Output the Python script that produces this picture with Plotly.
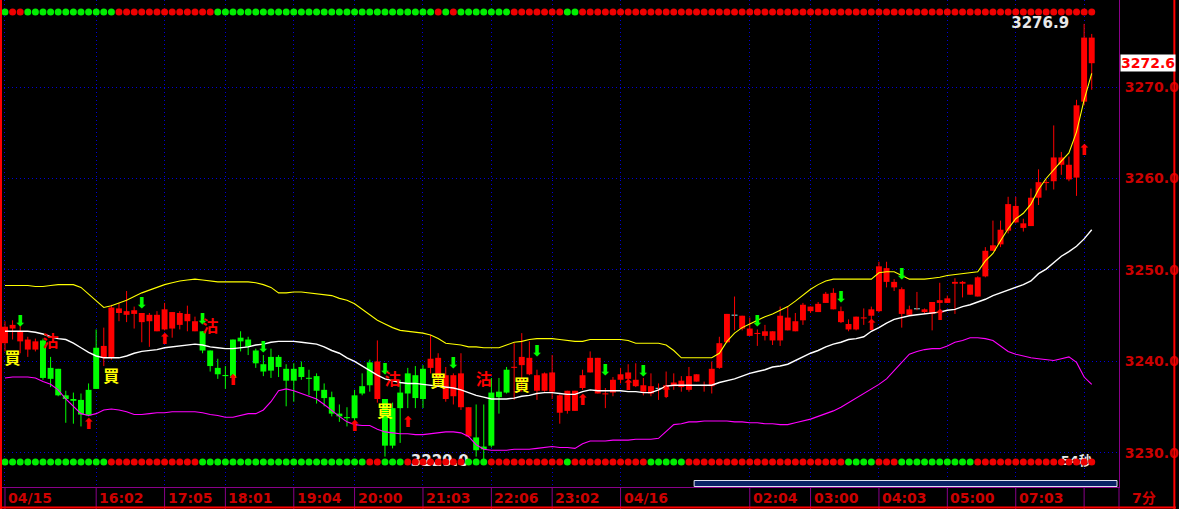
import plotly.graph_objects as go

# ---------------- data ----------------
time_labels = ["04/15", "16:02", "17:05", "18:01", "19:04", "20:00", "21:03", "22:06",
               "23:02", "04/16", "02:04", "03:00", "04:03", "05:00", "07:03", ""]
label_bars = [0, 12, 21, 29, 38, 46, 55, 64, 72, 81, 98, 106, 115, 124, 133, 142]
price_ticks = [3230, 3240, 3250, 3260, 3270]
period_label = "7分"

open_ = [3242.0, 3243.6, 3242.2, 3241.3, 3241.3, 3242.3, 3239.3, 3239.2, 3236.3, 3235.9,
         3235.8, 3236.9, 3241.5, 3240.4, 3240.4, 3245.3, 3245.1, 3245.2, 3244.3, 3244.4,
         3243.3, 3243.5, 3243.6, 3244.0, 3244.4, 3243.3, 3243.3, 3241.2, 3239.3, 3238.5,
         3242.4, 3242.6, 3242.4, 3241.2, 3239.7, 3240.5, 3240.5, 3239.2, 3239.2, 3239.4,
         3238.2, 3238.4, 3236.9, 3236.1, 3234.3, 3233.9, 3236.3, 3237.3, 3239.9, 3235.9,
         3235.9, 3234.9, 3236.6, 3238.7, 3238.5, 3239.2, 3239.3, 3238.4, 3235.9, 3236.2,
         3235.0, 3231.8, 3231.7, 3230.7, 3236.6, 3236.7, 3239.1, 3239.3, 3239.6, 3238.6,
         3236.8, 3236.8, 3236.7, 3234.4, 3234.6, 3234.6, 3237.1, 3238.8, 3236.5, 3236.4,
         3236.6, 3238.0, 3238.1, 3237.3, 3236.7, 3236.5, 3237.0, 3237.1, 3237.3, 3237.2,
         3236.9, 3237.8, 3237.3, 3237.3, 3239.3, 3242.1, 3245.0, 3243.6, 3242.8, 3243.0,
         3242.8, 3242.3, 3242.3, 3243.4, 3243.3, 3244.5, 3245.5, 3245.4, 3246.4, 3245.7,
         3244.3, 3243.5, 3243.5, 3244.7, 3245.0, 3245.5, 3248.7, 3248.1, 3245.2, 3245.1,
         3245.7, 3245.4, 3245.2, 3246.4, 3246.4, 3248.5, 3248.5, 3247.3, 3247.1, 3249.3,
         3252.1, 3252.8, 3254.3, 3255.2, 3254.6, 3254.8, 3257.9, 3259.5, 3259.7, 3261.5,
         3259.9, 3260.1, 3268.4, 3275.4]
close = [3243.8, 3244.0, 3243.3, 3242.4, 3242.2, 3238.2, 3238.1, 3236.3, 3235.9, 3235.7,
         3234.2, 3234.1, 3237.0, 3241.7, 3245.9, 3245.8, 3245.5, 3245.6, 3245.3, 3245.1,
         3245.1, 3245.7, 3245.4, 3245.3, 3245.2, 3244.4, 3241.2, 3239.5, 3238.6, 3238.4,
         3238.2, 3242.2, 3241.6, 3239.8, 3238.9, 3239.0, 3239.4, 3237.9, 3237.9, 3238.3,
         3238.1, 3236.8, 3236.0, 3234.3, 3234.0, 3233.8, 3233.8, 3236.5, 3237.4, 3240.0,
         3230.8, 3230.8, 3234.9, 3236.5, 3236.0, 3235.9, 3240.3, 3240.4, 3238.5, 3238.5,
         3238.7, 3235.0, 3230.3, 3230.4, 3230.8, 3236.1, 3236.6, 3239.4, 3240.5, 3240.4,
         3238.5, 3238.7, 3238.8, 3236.3, 3236.8, 3236.8, 3238.5, 3240.4, 3240.4, 3236.5,
         3238.0, 3238.6, 3238.8, 3238.0, 3237.4, 3237.3, 3237.1, 3237.4, 3237.7, 3237.9,
         3238.4, 3238.6, 3237.4, 3239.2, 3242.0, 3245.2, 3245.0, 3245.0, 3243.6, 3243.1,
         3243.3, 3243.3, 3245.0, 3244.8, 3244.4, 3246.2, 3246.0, 3246.3, 3247.4, 3247.5,
         3245.5, 3244.1, 3244.9, 3244.8, 3245.7, 3250.4, 3250.2, 3248.7, 3247.9, 3245.7,
         3245.7, 3245.7, 3246.5, 3246.7, 3246.9, 3248.7, 3248.7, 3248.4, 3249.2, 3252.1,
         3252.7, 3254.4, 3257.2, 3257.0, 3255.1, 3257.9, 3259.6, 3259.6, 3262.3, 3262.3,
         3261.5, 3268.0, 3275.4, 3272.6]
high = [3244.4, 3244.5, 3244.4, 3242.7, 3242.5, 3242.5, 3240.5, 3239.2, 3236.8, 3236.6,
        3236.5, 3237.6, 3243.5, 3243.7, 3246.2, 3246.4, 3247.7, 3246.0, 3245.3, 3245.3,
        3245.5, 3246.4, 3245.4, 3245.5, 3246.1, 3244.9, 3243.3, 3241.2, 3240.3, 3239.5,
        3242.4, 3243.3, 3242.7, 3241.4, 3240.7, 3241.4, 3240.7, 3239.7, 3239.8, 3240.0,
        3239.1, 3238.7, 3237.6, 3236.7, 3235.3, 3235.0, 3236.9, 3238.7, 3240.2, 3242.3,
        3235.9, 3235.5, 3238.0, 3239.3, 3239.5, 3239.6, 3242.9, 3240.9, 3239.4, 3238.7,
        3240.9, 3235.0, 3235.3, 3235.3, 3238.2, 3238.2, 3239.4, 3242.0, 3243.1, 3242.2,
        3239.1, 3238.8, 3240.7, 3236.4, 3236.8, 3236.8, 3239.1, 3241.1, 3240.4, 3237.1,
        3238.3, 3239.3, 3239.7, 3239.8, 3238.2, 3238.7, 3237.6, 3238.9, 3238.7, 3238.4,
        3239.4, 3238.6, 3237.8, 3240.0, 3242.7, 3245.2, 3247.1, 3245.0, 3244.8, 3243.5,
        3244.0, 3243.3, 3246.0, 3246.0, 3245.3, 3246.4, 3246.0, 3246.5, 3247.6, 3248.0,
        3246.0, 3244.6, 3244.9, 3245.8, 3246.0, 3250.9, 3250.9, 3249.0, 3248.1, 3246.1,
        3247.6, 3245.8, 3246.5, 3248.6, 3247.2, 3249.1, 3248.8, 3248.4, 3249.3, 3252.5,
        3255.4, 3255.4, 3258.0, 3258.0, 3255.6, 3258.9, 3261.0, 3259.9, 3265.8, 3262.9,
        3262.4, 3268.6, 3276.9, 3275.8]
low = [3241.1, 3242.4, 3240.9, 3240.5, 3241.1, 3238.0, 3237.2, 3236.2, 3233.3, 3233.2,
       3232.9, 3234.0, 3237.0, 3239.5, 3240.2, 3244.4, 3244.3, 3243.6, 3242.1, 3241.6,
       3243.3, 3243.4, 3242.6, 3243.5, 3243.3, 3243.3, 3240.9, 3238.9, 3238.1, 3237.0,
       3238.2, 3241.1, 3240.7, 3239.3, 3238.4, 3238.2, 3238.3, 3235.1, 3235.6, 3238.0,
       3236.3, 3235.4, 3235.1, 3234.0, 3233.4, 3232.9, 3233.6, 3236.3, 3236.7, 3235.5,
       3229.6, 3230.5, 3231.1, 3234.9, 3234.9, 3234.9, 3238.7, 3237.3, 3235.6, 3235.3,
       3234.7, 3231.7, 3229.6, 3229.0, 3230.6, 3234.3, 3236.5, 3235.8, 3236.7, 3238.5,
       3235.8, 3236.7, 3235.9, 3233.2, 3234.3, 3234.6, 3236.9, 3238.8, 3236.5, 3234.9,
       3236.2, 3237.6, 3237.1, 3237.2, 3236.3, 3236.2, 3235.8, 3236.0, 3236.9, 3236.7,
       3236.7, 3237.8, 3236.7, 3236.5, 3239.2, 3242.0, 3243.4, 3243.4, 3242.8, 3241.7,
       3242.3, 3241.8, 3241.7, 3243.4, 3243.3, 3244.0, 3245.3, 3245.4, 3246.4, 3245.7,
       3244.2, 3243.3, 3243.4, 3244.0, 3244.2, 3245.4, 3248.1, 3247.7, 3243.7, 3245.0,
       3245.6, 3245.2, 3243.4, 3245.2, 3246.4, 3245.2, 3247.0, 3247.3, 3247.1, 3249.2,
       3252.1, 3252.5, 3254.0, 3255.1, 3254.2, 3254.8, 3257.1, 3258.7, 3258.8, 3260.4,
       3259.7, 3258.1, 3268.0, 3269.7]
# candle colour runs: r = red, g = green, c = cyan (flat)
candle_color_runs = [("r", 5), ("g", 8), ("r", 13), ("g", 23), ("r", 1), ("g", 6), ("r", 6),
                     ("g", 5), ("r", 19), ("c", 1), ("r", 9), ("c", 1), ("r", 23), ("c", 1),
                     ("r", 23)]

upper_band = [3248.3, 3248.3, 3248.3, 3248.3, 3248.2, 3248.2, 3248.3, 3248.4, 3248.4, 3248.4,
              3248.1, 3247.4, 3246.6, 3245.9, 3246.1, 3246.4, 3246.7, 3247.1, 3247.5, 3247.8,
              3248.1, 3248.4, 3248.6, 3248.8, 3248.9, 3249.0, 3248.9, 3248.8, 3248.7, 3248.7,
              3248.7, 3248.7, 3248.7, 3248.6, 3248.4, 3248.1, 3247.5, 3247.5, 3247.6, 3247.6,
              3247.5, 3247.4, 3247.3, 3247.2, 3246.9, 3246.7, 3246.3, 3245.7, 3245.1, 3244.5,
              3244.1, 3243.7, 3243.4, 3243.3, 3243.2, 3243.1, 3242.9, 3242.5, 3242.0, 3241.9,
              3241.8, 3241.6, 3241.6, 3241.5, 3241.5, 3241.5, 3241.8, 3242.1, 3242.2, 3242.4,
              3242.5, 3242.5, 3242.5, 3242.4, 3242.3, 3242.2, 3242.2, 3242.4, 3242.4, 3242.4,
              3242.4, 3242.4, 3242.3, 3242.0, 3242.0, 3242.0, 3242.0, 3241.8, 3241.2, 3240.4,
              3240.4, 3240.4, 3240.4, 3240.4, 3240.9, 3242.2, 3243.1, 3243.7, 3244.1, 3244.5,
              3244.9, 3245.2, 3245.6, 3246.0, 3246.6, 3247.3, 3247.9, 3248.4, 3248.8, 3249.0,
              3249.0, 3249.0, 3249.0, 3249.0, 3249.0, 3249.7, 3249.8, 3249.8, 3249.4, 3249.0,
              3249.0, 3249.0, 3249.1, 3249.2, 3249.4, 3249.5, 3249.6, 3249.7, 3249.8, 3251.0,
              3251.8, 3253.2, 3254.5, 3255.6, 3256.2, 3257.2, 3258.8, 3260.0, 3261.0, 3261.9,
              3262.8, 3265.1, 3268.6, 3271.5]
mid_band = [3243.3, 3243.3, 3243.3, 3243.3, 3243.2, 3243.0, 3242.7, 3242.5, 3242.4, 3242.0,
            3241.5, 3241.0, 3240.6, 3240.4, 3240.4, 3240.4, 3240.6, 3240.9, 3241.1, 3241.2,
            3241.3, 3241.5, 3241.6, 3241.7, 3241.8, 3241.9, 3241.8, 3241.6, 3241.5, 3241.4,
            3241.4, 3241.5, 3241.6, 3241.8, 3241.9, 3242.1, 3242.2, 3242.2, 3242.2, 3242.1,
            3242.0, 3241.9, 3241.6, 3241.2, 3240.9, 3240.4, 3240.0, 3239.5, 3239.0, 3238.5,
            3238.1, 3237.9, 3237.7, 3237.6, 3237.6, 3237.5, 3237.4, 3237.3, 3237.2, 3237.1,
            3236.9, 3236.6, 3236.3, 3236.1, 3235.9, 3235.9, 3235.9, 3236.0, 3236.2, 3236.3,
            3236.5, 3236.6, 3236.6, 3236.5, 3236.4, 3236.4, 3236.7, 3236.9, 3236.8, 3236.8,
            3236.8, 3236.8, 3236.7, 3236.7, 3236.6, 3236.6, 3236.9, 3237.3, 3237.4, 3237.4,
            3237.4, 3237.4, 3237.4, 3237.4, 3237.7, 3237.9, 3238.1, 3238.4, 3238.7, 3238.9,
            3239.1, 3239.4, 3239.5, 3239.7, 3240.1, 3240.5, 3240.9, 3241.2, 3241.6, 3241.9,
            3242.1, 3242.4, 3242.5, 3242.7, 3243.3, 3243.7, 3244.2, 3244.6, 3244.8, 3245.0,
            3245.1, 3245.2, 3245.3, 3245.4, 3245.6, 3245.7, 3246.0, 3246.2, 3246.5, 3246.8,
            3247.2, 3247.5, 3247.8, 3248.1, 3248.4, 3248.8, 3249.6, 3250.1, 3250.8, 3251.5,
            3252.0, 3252.6, 3253.4, 3254.4]
lower_band = [3238.2, 3238.3, 3238.3, 3238.3, 3238.2, 3237.8, 3237.5, 3236.9, 3235.9, 3235.1,
              3234.3, 3234.1, 3234.3, 3234.7, 3234.8, 3234.7, 3234.5, 3234.2, 3234.2, 3234.3,
              3234.4, 3234.4, 3234.5, 3234.5, 3234.5, 3234.5, 3234.4, 3234.2, 3234.1, 3233.9,
              3233.9, 3234.1, 3234.3, 3234.3, 3234.7, 3235.6, 3236.8, 3237.0, 3236.8, 3236.5,
              3236.2, 3235.9, 3235.3, 3234.6, 3234.0, 3233.4, 3233.1, 3233.0, 3233.0, 3232.6,
              3232.3, 3232.2, 3232.1, 3232.1, 3232.0, 3232.0, 3232.1, 3232.2, 3232.3, 3232.3,
              3232.2, 3231.8, 3230.9, 3230.4, 3230.3, 3230.3, 3230.3, 3230.4, 3230.4, 3230.4,
              3230.5, 3230.6, 3230.7, 3230.6, 3230.6, 3230.5, 3231.0, 3231.3, 3231.3, 3231.3,
              3231.4, 3231.4, 3231.4, 3231.5, 3231.5, 3231.5, 3231.6, 3232.3, 3233.1, 3233.2,
              3233.4, 3233.4, 3233.5, 3233.5, 3233.5, 3233.5, 3233.4, 3233.4, 3233.3, 3233.3,
              3233.2, 3233.2, 3233.1, 3233.1, 3233.3, 3233.5, 3233.7, 3234.0, 3234.3, 3234.6,
              3235.0, 3235.5, 3236.0, 3236.5, 3237.0, 3237.5, 3238.1, 3239.0, 3240.0, 3240.8,
              3241.1, 3241.3, 3241.4, 3241.4, 3241.7, 3242.1, 3242.3, 3242.6, 3242.6, 3242.5,
              3242.3, 3241.7, 3241.1, 3240.8, 3240.6, 3240.4, 3240.3, 3240.2, 3240.1, 3240.3,
              3240.5, 3239.9, 3238.3, 3237.5]

# indicator dot rows (G = green, R = red) as run lengths
top_dot_runs = [("G", 1), ("R", 2), ("G", 12), ("R", 13), ("G", 29), ("R", 1), ("G", 1),
                ("R", 1), ("G", 7), ("R", 7), ("G", 2), ("R", 68)]
bottom_dot_runs = [("G", 14), ("R", 12), ("G", 22), ("R", 2), ("G", 3), ("R", 8), ("G", 3),
                   ("R", 10), ("G", 1), ("R", 10), ("G", 5), ("R", 21), ("G", 4), ("R", 3),
                   ("G", 10), ("R", 16)]
top_dot_level = 3278.2
bottom_dot_level = 3229.0

# signals
down_arrow_idx = [2, 18, 26, 34, 50, 59, 70, 79, 84, 99, 110, 118]
down_arrow_price = [3244.3, 3246.3, 3244.5, 3241.4, 3239.0, 3239.7, 3241.0, 3238.9, 3238.8,
                    3244.3, 3246.9, 3249.4]
up_arrow_idx = [11, 21, 30, 46, 53, 76, 82, 87, 114, 123, 142]
up_arrow_price = [3233.0, 3242.3, 3237.8, 3232.8, 3233.3, 3235.7, 3237.3, 3236.5, 3243.9,
                  3244.9, 3263.0]
buy_idx = [1, 14, 50, 57, 68]
buy_price = [3240.2, 3238.2, 3234.4, 3237.7, 3237.2]
sell_idx = [6, 27, 51, 63]
sell_price = [3242.0, 3243.7, 3237.9, 3237.9]
countdown_text = "54秒"

# ---------------- helpers ----------------
def expand(runs):
    out = []
    for c, n in runs:
        out += [c] * n
    return out

n = len(close)
xs = list(range(n))
ccol = expand(candle_color_runs)
top_cols = expand(top_dot_runs)
bot_cols = expand(bottom_dot_runs)

RED = "#ff0000"
GREEN = "#00ff00"
CYAN = "#80d8d8"
body_color = {"r": RED, "g": GREEN, "c": CYAN}
dot_color = {"G": "#00ee00", "R": "#ee0000"}

fig = go.Figure()

# wicks (cyan flat candles use red wicks)
for key, col in (("r", RED), ("g", GREEN)):
    wx, wy = [], []
    for i in xs:
        k = "r" if ccol[i] == "c" else ccol[i]
        if k == key:
            wx += [i, i, None]
            wy += [low[i], high[i], None]
    fig.add_trace(go.Scatter(x=wx, y=wy, mode="lines", line=dict(color=col, width=1),
                             hoverinfo="skip"))

# bodies
base = [min(o, c) for o, c in zip(open_, close)]
height = [max(abs(c - o), 0.12) for o, c in zip(open_, close)]
fig.add_trace(go.Bar(x=xs, y=height, base=base, width=0.78,
                     marker=dict(color=[body_color[c] for c in ccol], line=dict(width=0)),
                     hoverinfo="skip"))

# bands
fig.add_trace(go.Scatter(x=xs, y=upper_band, mode="lines", line=dict(color="#ffff00", width=1.1)))
fig.add_trace(go.Scatter(x=xs, y=mid_band, mode="lines", line=dict(color="#ffffff", width=1.4)))
fig.add_trace(go.Scatter(x=xs, y=lower_band, mode="lines", line=dict(color="#ff00ff", width=1.1)))

# high / low / countdown text (under the dot rows)
hi_i = max(xs, key=lambda i: high[i])
lo_i = min(xs, key=lambda i: low[i])
fig.add_trace(go.Scatter(x=[hi_i], y=[high[hi_i]], mode="text",
                         text=[f"{high[hi_i]:.1f}\u2002\u2002"], textposition="middle left",
                         textfont=dict(family="DejaVu Sans", size=15, color="#e8e8e8", weight="bold")))
fig.add_trace(go.Scatter(x=[lo_i], y=[low[lo_i]], mode="text",
                         text=[f"{low[lo_i]:.1f}\u2002\u2002"], textposition="middle left",
                         textfont=dict(family="DejaVu Sans", size=15, color="#e8e8e8", weight="bold")))
fig.add_trace(go.Scatter(x=[xs[-1]], y=[bottom_dot_level], mode="text",
                         text=[countdown_text], textposition="middle left",
                         textfont=dict(family="DejaVu Sans, Noto Sans CJK TC", size=13,
                                       color="#e8e8e8", weight="bold")))

# dot rows
fig.add_trace(go.Scatter(x=xs, y=[top_dot_level] * n, mode="markers",
                         marker=dict(size=7, color=[dot_color[c] for c in top_cols], line=dict(width=0))))
fig.add_trace(go.Scatter(x=xs, y=[bottom_dot_level] * n, mode="markers",
                         marker=dict(size=7, color=[dot_color[c] for c in bot_cols], line=dict(width=0))))

# arrows
fig.add_trace(go.Scatter(x=down_arrow_idx, y=down_arrow_price, mode="text",
                         text=["⬇"] * len(down_arrow_idx),
                         textfont=dict(family="DejaVu Sans", size=15, color=GREEN)))
fig.add_trace(go.Scatter(x=up_arrow_idx, y=up_arrow_price, mode="text",
                         text=["⬆"] * len(up_arrow_idx),
                         textfont=dict(family="DejaVu Sans", size=15, color=RED)))

# buy / sell marks
fig.add_trace(go.Scatter(x=buy_idx, y=buy_price, mode="text", text=["買"] * len(buy_idx),
                         textfont=dict(family="Noto Sans CJK TC", size=16, color="#ffff00",
                                       weight="bold")))
fig.add_trace(go.Scatter(x=sell_idx, y=sell_price, mode="text", text=["沽"] * len(sell_idx),
                         textfont=dict(family="Noto Sans CJK TC", size=16, color=RED,
                                       weight="bold")))

# ---------------- layout ----------------
W, H = 1179, 509
ML, MR, MT, MB = 0, 57, 0, 22
PW, PH = W - ML - MR, H - MT - MB
PX = 7.62  # pixels per bar
x0 = -5 / PX
x_range = [x0, x0 + PW / PX]
y_range = [3226.28, 3279.51]

GRID = "#0000d8"
PURPLE = "#8a008a"
AXRED = "#cc0000"

fig.update_layout(width=W, height=H, margin=dict(l=ML, r=MR, t=MT, b=MB, pad=0),
                  paper_bgcolor="#000000", plot_bgcolor="#000000", showlegend=False,
                  hovermode=False, barmode="overlay")
fig.update_xaxes(range=x_range, tickvals=label_bars, showticklabels=False, ticks="",
                 showgrid=True, gridcolor=GRID, gridwidth=1, griddash="1px,3px",
                 zeroline=False, showline=True, linecolor=PURPLE, linewidth=1, fixedrange=True)
fig.update_yaxes(range=y_range, side="right", tickvals=price_ticks,
                 ticktext=[f"{v:.1f}" for v in price_ticks], ticks="",
                 tickfont=dict(family="DejaVu Sans", size=14, color=AXRED, weight="bold"),
                 ticklabelstandoff=2,
                 showgrid=True, gridcolor=GRID, gridwidth=1, griddash="1px,3px",
                 zeroline=False, showline=True, linecolor=PURPLE, linewidth=1, fixedrange=True)

band_h = MB / PH
shapes = []
for b in label_bars:
    shapes.append(dict(type="line", xref="x", yref="paper", x0=b, x1=b, y0=-band_h, y1=0,
                       line=dict(color=PURPLE, width=1)))
shapes.append(dict(type="line", xref="paper", yref="paper", x0=1, x1=1, y0=-band_h, y1=0,
                   line=dict(color=PURPLE, width=1)))
shapes.append(dict(type="line", xref="paper", yref="paper", x0=1 / PW, x1=1 / PW, y0=-band_h, y1=1,
                   line=dict(color="#ff0000", width=2)))
shapes.append(dict(type="line", xref="paper", yref="paper", x0=(W - 1.5) / PW, x1=(W - 1.5) / PW,
                   y0=-band_h, y1=1, line=dict(color="#ff0000", width=2)))
shapes.append(dict(type="line", xref="paper", yref="paper", x0=0, x1=W / PW,
                   y0=-(MB - 1.5) / PH, y1=-(MB - 1.5) / PH, line=dict(color="#ff0000", width=2)))
shapes.append(dict(type="rect", xref="paper", yref="paper", x0=696 / PW, x1=1120 / PW,
                   y0=0.5 / PH, y1=6.5 / PH, fillcolor="#0a2266",
                   line=dict(color="#e0e0f0", width=1)))

annotations = []
for b, t in zip(label_bars, time_labels):
    if t:
        annotations.append(dict(x=b, xref="x", y=-band_h / 2, yref="paper", xanchor="left",
                                yanchor="middle", xshift=1, showarrow=False, text=t,
                                font=dict(family="DejaVu Sans", size=14, color=AXRED, weight="bold")))
annotations.append(dict(x=1, xref="paper", y=-band_h / 2, yref="paper", xanchor="left",
                        yanchor="middle", xshift=11, showarrow=False, text=period_label,
                        font=dict(family="DejaVu Sans, Noto Sans CJK SC", size=14, color=AXRED,
                                  weight="bold")))
annotations.append(dict(x=1, xref="paper", y=close[-1], yref="y", xanchor="left", yanchor="middle",
                        xshift=1, showarrow=False, text=f"{close[-1]:.1f}", bgcolor="#ffffff",
                        borderpad=0,
                        font=dict(family="DejaVu Sans", size=14, color="#ff0000", weight="bold")))

fig.update_layout(shapes=shapes, annotations=annotations)
fig.write_html("out.html", config={"displayModeBar": False, "staticPlot": True},
               post_script="document.body.style.margin='0';document.body.style.background='#000';")
